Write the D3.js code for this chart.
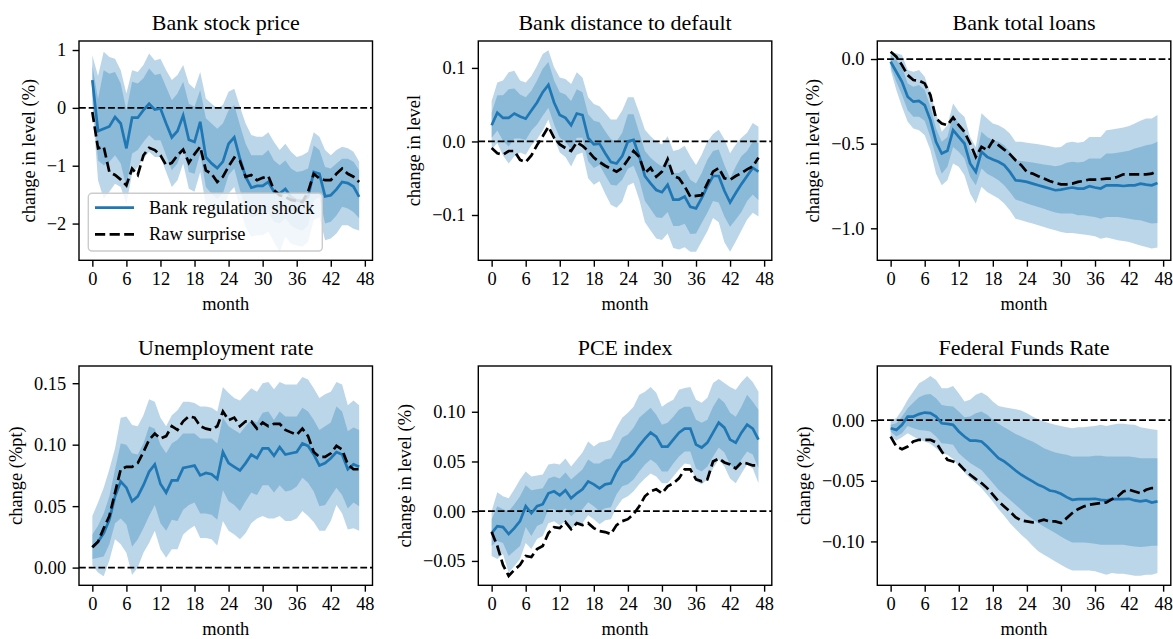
<!DOCTYPE html>
<html lang="en">
<head>
<meta charset="UTF-8">
<title>Impulse responses</title>
<script src="https://cdn.jsdelivr.net/npm/d3@7"></script>
<style>
    body { margin: 0; background: #fff; }
    svg { display: block; }
    text { font-family: "Liberation Serif", "Times New Roman", serif; fill: #000; }
</style>
</head>
<body>
<div id="chart"></div>
<script>
    // months 0..47 and axis ticks
    const months = d3.range(48);
    const xTicks = [0, 6, 12, 18, 24, 30, 36, 42, 48];

    // Bank stock price
    const stockIrf = [0.48,-0.40,-0.36,-0.32,-0.16,-0.27,-0.70,-0.17,-0.17,-0.04,0.07,-0.03,-0.01,-0.27,-0.51,-0.40,-0.13,-0.55,-0.59,-0.24,-0.85,-0.96,-1.04,-0.93,-0.62,-0.51,-0.88,-1.19,-1.38,-1.35,-1.35,-1.28,-1.45,-1.48,-1.40,-1.54,-1.60,-1.61,-1.54,-1.11,-1.14,-1.53,-1.51,-1.41,-1.28,-1.30,-1.36,-1.54];
    const stockRaw = [-0.07,-0.70,-0.67,-1.11,-1.16,-1.24,-1.34,-1.05,-1.16,-0.82,-0.69,-0.73,-0.82,-0.99,-0.95,-0.82,-0.72,-0.95,-0.80,-0.67,-1.08,-1.14,-1.28,-1.19,-1.01,-0.86,-0.92,-1.19,-1.16,-1.25,-1.21,-1.18,-1.42,-1.51,-1.54,-1.59,-1.61,-1.63,-1.45,-1.14,-1.22,-1.25,-1.25,-1.14,-1.05,-1.14,-1.19,-1.28];
    const stockHi90 = [0.91,0.55,0.97,0.88,0.85,0.65,0.25,0.65,0.62,0.74,0.94,0.82,0.85,0.65,0.48,0.57,0.74,0.42,0.33,0.62,0.16,0.07,-0.01,0.05,0.28,0.33,0.02,-0.27,-0.47,-0.50,-0.50,-0.42,-0.59,-0.73,-0.62,-0.76,-0.85,-0.82,-0.76,-0.42,-0.50,-0.73,-0.82,-0.73,-0.67,-0.70,-0.76,-0.93];
    const stockHi68 = [0.74,0.15,0.65,0.59,0.62,0.42,-0.04,0.45,0.42,0.51,0.68,0.57,0.59,0.36,0.13,0.25,0.45,0.07,0.02,0.31,-0.18,-0.27,-0.36,-0.27,-0.04,0.05,-0.30,-0.62,-0.82,-0.82,-0.82,-0.73,-0.91,-0.99,-0.91,-1.05,-1.11,-1.09,-1.05,-0.65,-0.73,-1.02,-1.05,-0.96,-0.88,-0.88,-0.93,-1.08];
    const stockLo68 = [0.22,-0.91,-0.99,-0.93,-0.82,-0.96,-1.37,-0.79,-0.73,-0.59,-0.47,-0.56,-0.56,-0.82,-1.08,-0.96,-0.67,-1.11,-1.14,-0.79,-1.37,-1.48,-1.57,-1.48,-1.16,-1.05,-1.42,-1.74,-1.89,-1.86,-1.86,-1.80,-1.97,-2.00,-1.91,-2.03,-2.09,-2.12,-2.03,-1.60,-1.54,-2.00,-1.97,-1.86,-1.71,-1.74,-1.80,-1.91];
    const stockLo90 = [0.07,-1.25,-1.57,-1.45,-1.31,-1.37,-1.66,-1.14,-1.02,-0.88,-0.76,-0.85,-0.85,-1.11,-1.37,-1.25,-0.96,-1.40,-1.45,-1.11,-1.68,-1.80,-1.89,-1.80,-1.48,-1.37,-1.74,-2.06,-2.23,-2.20,-2.20,-2.14,-2.32,-2.49,-2.23,-2.35,-2.38,-2.40,-2.32,-1.94,-1.89,-2.29,-2.26,-2.17,-2.03,-2.03,-2.09,-2.12];

    // Bank distance to default
    const ddIrf = [0.022,0.039,0.032,0.032,0.038,0.034,0.031,0.042,0.053,0.067,0.077,0.053,0.036,0.032,0.022,0.038,0.036,0.005,-0.004,-0.003,-0.016,-0.028,-0.030,-0.020,0.000,0.002,-0.020,-0.047,-0.057,-0.066,-0.069,-0.059,-0.079,-0.079,-0.075,-0.089,-0.091,-0.077,-0.061,-0.047,-0.047,-0.067,-0.083,-0.070,-0.058,-0.047,-0.036,-0.041];
    const ddRaw = [-0.009,-0.016,-0.018,-0.013,-0.013,-0.025,-0.028,-0.019,-0.005,0.007,0.020,0.005,-0.004,-0.009,-0.013,-0.001,-0.006,-0.013,-0.022,-0.028,-0.033,-0.037,-0.041,-0.036,-0.025,-0.013,-0.021,-0.043,-0.036,-0.048,-0.041,-0.024,-0.047,-0.050,-0.061,-0.075,-0.074,-0.073,-0.057,-0.041,-0.036,-0.050,-0.052,-0.047,-0.043,-0.038,-0.034,-0.022];
    const ddHi90 = [0.055,0.080,0.083,0.094,0.096,0.083,0.080,0.089,0.103,0.119,0.124,0.101,0.087,0.085,0.078,0.094,0.087,0.060,0.051,0.048,0.039,0.030,0.030,0.042,0.060,0.060,0.039,0.016,0.007,0.000,-0.004,0.007,-0.013,-0.011,-0.006,-0.020,-0.032,-0.018,0.000,0.010,0.016,0.003,-0.016,-0.004,0.005,0.012,0.025,0.020];
    const ddHi68 = [0.039,0.063,0.063,0.071,0.072,0.064,0.060,0.069,0.083,0.099,0.108,0.083,0.067,0.064,0.055,0.071,0.067,0.037,0.028,0.026,0.014,0.003,0.000,0.012,0.037,0.037,0.012,-0.013,-0.022,-0.029,-0.034,-0.022,-0.043,-0.043,-0.038,-0.052,-0.057,-0.043,-0.025,-0.013,-0.011,-0.032,-0.050,-0.034,-0.020,-0.013,0.000,-0.002];
    const ddLo68 = [0.005,0.015,0.001,-0.007,0.004,0.004,0.002,0.015,0.023,0.035,0.046,0.023,0.005,0.000,-0.011,0.005,0.005,-0.027,-0.036,-0.032,-0.046,-0.059,-0.060,-0.052,-0.037,-0.033,-0.052,-0.081,-0.092,-0.103,-0.104,-0.096,-0.115,-0.115,-0.112,-0.126,-0.125,-0.111,-0.097,-0.081,-0.083,-0.102,-0.116,-0.106,-0.096,-0.081,-0.072,-0.080];
    const ddLo90 = [-0.011,-0.002,-0.019,-0.030,-0.020,-0.015,-0.018,-0.005,0.003,0.015,0.030,0.005,-0.015,-0.021,-0.034,-0.018,-0.015,-0.050,-0.059,-0.054,-0.071,-0.086,-0.090,-0.082,-0.060,-0.056,-0.079,-0.110,-0.121,-0.132,-0.134,-0.125,-0.145,-0.147,-0.144,-0.150,-0.150,-0.136,-0.122,-0.104,-0.110,-0.137,-0.150,-0.136,-0.121,-0.106,-0.097,-0.102];

    // Bank total loans
    const loansIrf = [-0.016,-0.075,-0.134,-0.223,-0.252,-0.247,-0.272,-0.361,-0.489,-0.558,-0.542,-0.420,-0.460,-0.499,-0.617,-0.667,-0.548,-0.578,-0.594,-0.607,-0.627,-0.667,-0.716,-0.720,-0.726,-0.736,-0.746,-0.755,-0.765,-0.775,-0.771,-0.765,-0.759,-0.765,-0.765,-0.751,-0.759,-0.765,-0.746,-0.746,-0.746,-0.750,-0.746,-0.746,-0.736,-0.742,-0.746,-0.732];
    const loansRaw = [0.043,0.014,-0.036,-0.095,-0.124,-0.128,-0.144,-0.213,-0.351,-0.381,-0.391,-0.345,-0.391,-0.430,-0.499,-0.578,-0.519,-0.538,-0.483,-0.509,-0.535,-0.562,-0.598,-0.627,-0.667,-0.677,-0.692,-0.706,-0.720,-0.732,-0.740,-0.740,-0.736,-0.726,-0.720,-0.712,-0.712,-0.710,-0.706,-0.706,-0.696,-0.681,-0.681,-0.681,-0.681,-0.681,-0.677,-0.661];
    const loansHi90 = [0.043,0.034,0.024,-0.065,-0.075,-0.065,-0.105,-0.203,-0.321,-0.430,-0.391,-0.262,-0.312,-0.341,-0.460,-0.519,-0.321,-0.351,-0.381,-0.391,-0.410,-0.440,-0.489,-0.489,-0.495,-0.499,-0.503,-0.509,-0.515,-0.523,-0.519,-0.495,-0.489,-0.495,-0.489,-0.460,-0.460,-0.460,-0.420,-0.416,-0.410,-0.404,-0.396,-0.381,-0.365,-0.351,-0.351,-0.331];
    const loansHi68 = [0.024,-0.006,-0.045,-0.144,-0.164,-0.154,-0.183,-0.282,-0.410,-0.489,-0.460,-0.331,-0.381,-0.420,-0.538,-0.588,-0.430,-0.460,-0.479,-0.489,-0.509,-0.548,-0.598,-0.602,-0.607,-0.611,-0.617,-0.623,-0.627,-0.633,-0.627,-0.613,-0.607,-0.611,-0.607,-0.588,-0.588,-0.588,-0.558,-0.558,-0.554,-0.548,-0.542,-0.529,-0.519,-0.509,-0.503,-0.489];
    const loansLo68 = [-0.045,-0.134,-0.213,-0.302,-0.341,-0.341,-0.365,-0.460,-0.578,-0.677,-0.637,-0.519,-0.548,-0.588,-0.696,-0.746,-0.647,-0.677,-0.696,-0.716,-0.746,-0.785,-0.830,-0.840,-0.854,-0.864,-0.874,-0.884,-0.897,-0.907,-0.913,-0.913,-0.913,-0.923,-0.923,-0.929,-0.933,-0.943,-0.933,-0.933,-0.933,-0.937,-0.943,-0.949,-0.953,-0.963,-0.972,-0.968];
    const loansLo90 = [-0.065,-0.183,-0.282,-0.371,-0.410,-0.420,-0.450,-0.538,-0.677,-0.746,-0.716,-0.617,-0.637,-0.686,-0.795,-0.854,-0.755,-0.785,-0.805,-0.824,-0.854,-0.893,-0.943,-0.953,-0.963,-0.972,-0.982,-0.992,-1.002,-1.012,-1.022,-1.028,-1.028,-1.032,-1.036,-1.041,-1.047,-1.061,-1.055,-1.061,-1.071,-1.075,-1.081,-1.091,-1.101,-1.110,-1.120,-1.114];

    // Unemployment rate
    const unempIrf = [0.0165,0.021,0.028,0.039,0.058,0.070,0.065,0.054,0.058,0.067,0.078,0.084,0.068,0.061,0.071,0.071,0.081,0.082,0.083,0.075,0.077,0.076,0.072,0.094,0.085,0.082,0.079,0.085,0.092,0.089,0.097,0.097,0.091,0.098,0.092,0.093,0.094,0.101,0.099,0.092,0.083,0.085,0.089,0.094,0.092,0.080,0.084,0.082];
    const unempRaw = [0.0165,0.021,0.032,0.042,0.061,0.080,0.082,0.082,0.085,0.094,0.104,0.109,0.105,0.107,0.115,0.112,0.119,0.123,0.122,0.115,0.113,0.112,0.115,0.127,0.120,0.122,0.115,0.119,0.119,0.113,0.118,0.115,0.117,0.117,0.112,0.110,0.108,0.113,0.107,0.094,0.090,0.090,0.093,0.099,0.096,0.084,0.080,0.080];
    const unempHi90 = [0.042,0.053,0.065,0.080,0.097,0.122,0.123,0.116,0.115,0.124,0.137,0.135,0.122,0.115,0.124,0.128,0.135,0.135,0.134,0.131,0.131,0.130,0.127,0.147,0.142,0.138,0.136,0.141,0.146,0.143,0.150,0.151,0.145,0.151,0.149,0.149,0.149,0.155,0.153,0.146,0.138,0.141,0.143,0.151,0.149,0.132,0.136,0.132];
    const unempHi68 = [0.027,0.034,0.044,0.058,0.080,0.101,0.100,0.093,0.092,0.101,0.115,0.113,0.100,0.093,0.101,0.104,0.109,0.109,0.109,0.105,0.105,0.105,0.101,0.122,0.115,0.112,0.109,0.115,0.120,0.118,0.126,0.127,0.120,0.127,0.123,0.123,0.123,0.130,0.127,0.120,0.112,0.115,0.118,0.131,0.127,0.111,0.114,0.112];
    const unempLo68 = [0.007,0.008,0.009,0.019,0.036,0.040,0.035,0.017,0.023,0.032,0.042,0.051,0.036,0.030,0.039,0.038,0.047,0.051,0.053,0.044,0.044,0.043,0.039,0.063,0.054,0.051,0.046,0.054,0.061,0.059,0.067,0.067,0.061,0.067,0.062,0.063,0.066,0.073,0.069,0.062,0.050,0.051,0.058,0.065,0.059,0.048,0.053,0.050];
    const unempLo90 = [0.002,-0.004,-0.007,0.006,0.023,0.019,0.012,-0.006,0.000,0.012,0.020,0.030,0.015,0.008,0.015,0.015,0.027,0.031,0.034,0.024,0.024,0.023,0.018,0.038,0.030,0.027,0.023,0.028,0.036,0.040,0.042,0.040,0.040,0.042,0.038,0.038,0.040,0.046,0.042,0.037,0.030,0.030,0.038,0.051,0.044,0.031,0.032,0.030];

    // PCE index
    const pceIrf = [-0.022,-0.015,-0.016,-0.023,-0.017,-0.010,0.005,-0.002,0.005,0.007,0.018,0.020,0.016,0.021,0.013,0.018,0.022,0.030,0.027,0.023,0.027,0.028,0.040,0.049,0.052,0.058,0.066,0.073,0.079,0.075,0.065,0.065,0.072,0.079,0.083,0.083,0.067,0.064,0.069,0.079,0.089,0.084,0.072,0.069,0.079,0.087,0.083,0.072];
    const pceRaw = [-0.021,-0.035,-0.054,-0.065,-0.059,-0.054,-0.045,-0.046,-0.038,-0.035,-0.022,-0.016,-0.017,-0.011,-0.018,-0.012,-0.014,-0.012,-0.017,-0.020,-0.021,-0.023,-0.014,-0.010,-0.008,-0.003,0.005,0.015,0.020,0.022,0.018,0.025,0.028,0.033,0.042,0.042,0.032,0.030,0.032,0.050,0.053,0.049,0.047,0.043,0.049,0.048,0.046,0.046];
    const pceHi90 = [0.000,0.019,0.015,0.013,0.022,0.032,0.040,0.035,0.036,0.037,0.047,0.048,0.047,0.053,0.045,0.052,0.059,0.070,0.065,0.069,0.070,0.072,0.084,0.094,0.099,0.105,0.117,0.120,0.125,0.119,0.105,0.109,0.112,0.122,0.124,0.125,0.112,0.109,0.114,0.129,0.133,0.129,0.125,0.122,0.130,0.136,0.130,0.120];
    const pceHi68 = [-0.008,0.005,0.002,0.000,0.007,0.015,0.026,0.021,0.022,0.023,0.033,0.035,0.033,0.039,0.032,0.037,0.042,0.052,0.048,0.048,0.052,0.053,0.063,0.074,0.077,0.084,0.094,0.099,0.104,0.097,0.087,0.089,0.095,0.102,0.105,0.105,0.092,0.089,0.092,0.105,0.114,0.109,0.099,0.095,0.105,0.117,0.110,0.102];
    const pceLo68 = [-0.035,-0.030,-0.032,-0.045,-0.040,-0.035,-0.016,-0.025,-0.015,-0.012,0.002,0.002,-0.002,0.003,-0.005,0.000,0.002,0.009,0.005,0.000,0.003,0.004,0.017,0.025,0.027,0.032,0.040,0.047,0.052,0.048,0.040,0.040,0.048,0.055,0.060,0.060,0.043,0.040,0.045,0.055,0.064,0.059,0.047,0.042,0.052,0.060,0.057,0.043];
    const pceLo90 = [-0.045,-0.048,-0.043,-0.062,-0.055,-0.048,-0.032,-0.038,-0.028,-0.025,-0.012,-0.010,-0.014,-0.010,-0.018,-0.012,-0.012,-0.004,-0.008,-0.013,-0.009,-0.008,0.004,0.012,0.015,0.020,0.027,0.033,0.038,0.035,0.028,0.028,0.035,0.042,0.048,0.047,0.030,0.027,0.032,0.043,0.052,0.045,0.033,0.028,0.038,0.047,0.043,0.028];

    // Federal Funds Rate
    const ffrIrf = [-0.0066,-0.008,-0.0038,0.003,0.003,0.005,0.0063,0.0058,0.003,-0.0025,-0.003,-0.0038,-0.0093,-0.0135,-0.0168,-0.0168,-0.0176,-0.0217,-0.0266,-0.0313,-0.034,-0.0376,-0.0415,-0.045,-0.0478,-0.0505,-0.0533,-0.0552,-0.058,-0.0588,-0.0607,-0.0635,-0.0657,-0.0651,-0.0651,-0.0651,-0.0648,-0.0657,-0.0662,-0.0651,-0.0651,-0.0651,-0.0648,-0.0662,-0.067,-0.0662,-0.0679,-0.067];
    const ffrRaw = [-0.0135,-0.0217,-0.0239,-0.0217,-0.0176,-0.0162,-0.0162,-0.0162,-0.0184,-0.0258,-0.0327,-0.034,-0.036,-0.041,-0.045,-0.0486,-0.0519,-0.056,-0.0615,-0.067,-0.0712,-0.0753,-0.08,-0.0827,-0.0835,-0.0843,-0.0835,-0.0821,-0.0835,-0.0835,-0.0849,-0.0808,-0.0766,-0.0734,-0.0712,-0.0698,-0.069,-0.0684,-0.0679,-0.0651,-0.0629,-0.0588,-0.0574,-0.0588,-0.0602,-0.0574,-0.056,-0.056];
    const ffrHi90 = [0.0,0.0016,0.0085,0.0168,0.0236,0.0305,0.0332,0.0365,0.0332,0.0264,0.0264,0.0283,0.0223,0.0154,0.0168,0.0209,0.0228,0.0201,0.0154,0.0118,0.0107,0.0099,0.0091,0.008,0.0058,0.003,0.0008,-0.0011,-0.0025,-0.0038,-0.0047,-0.0058,-0.0066,-0.0058,-0.0058,-0.0052,-0.0047,-0.0038,-0.0047,-0.0038,-0.003,-0.003,-0.0036,-0.0038,-0.0058,-0.0066,-0.0074,-0.008];
    const ffrHi68 = [-0.0038,-0.0025,0.003,0.0099,0.0146,0.019,0.0209,0.0217,0.0181,0.0126,0.0118,0.0113,0.0071,0.0025,0.003,0.0058,0.0071,0.0044,0.0003,-0.003,-0.0058,-0.0085,-0.0113,-0.0135,-0.0157,-0.0176,-0.0203,-0.0231,-0.025,-0.0266,-0.0277,-0.0286,-0.0299,-0.0299,-0.0299,-0.0299,-0.0294,-0.0294,-0.0299,-0.0299,-0.0299,-0.0299,-0.0299,-0.0305,-0.0313,-0.0313,-0.0313,-0.0313];
    const ffrLo68 = [-0.0093,-0.0135,-0.0107,-0.0047,-0.0066,-0.008,-0.0085,-0.0093,-0.0135,-0.019,-0.0195,-0.0203,-0.0272,-0.0313,-0.0354,-0.0382,-0.041,-0.0464,-0.0519,-0.0574,-0.0615,-0.0657,-0.0698,-0.0739,-0.078,-0.0816,-0.0849,-0.0876,-0.0904,-0.0931,-0.0959,-0.0986,-0.1008,-0.1008,-0.1008,-0.1014,-0.1019,-0.1027,-0.1027,-0.1027,-0.1027,-0.1027,-0.1036,-0.1041,-0.1047,-0.1041,-0.1036,-0.1036];
    const ffrLo90 = [-0.0135,-0.0168,-0.014,-0.0107,-0.0135,-0.0162,-0.0176,-0.0195,-0.0231,-0.0272,-0.0286,-0.0321,-0.0382,-0.0431,-0.0478,-0.0519,-0.056,-0.0615,-0.067,-0.0734,-0.0788,-0.0849,-0.0898,-0.0945,-0.0986,-0.1036,-0.1082,-0.111,-0.1137,-0.1165,-0.1192,-0.122,-0.1239,-0.1239,-0.1239,-0.1239,-0.1247,-0.1261,-0.1275,-0.1261,-0.1266,-0.1266,-0.1275,-0.1283,-0.1283,-0.1275,-0.1275,-0.1261];

    // Titles, axis labels and y ticks
    const titles = ['Bank stock price', 'Bank distance to default', 'Bank total loans',
        'Unemployment rate', 'PCE index', 'Federal Funds Rate'];
    const yLabels = ['change in level (%)', 'change in level', 'change in level (%)',
        'change (%pt)', 'change in level (%)', 'change (%pt)'];
    const yTicks = [[-2, -1, 0, 1], [-0.1, 0, 0.1], [-1, -0.5, 0],
        [0, 0.05, 0.10, 0.15], [-0.05, 0, 0.05, 0.10], [-0.10, -0.05, 0]];
    const yFormats = ['d', '.1f', '.1f', '.2f', '.2f', '.2f'];
    const seriesNames = ['Bank regulation shock', 'Raw surprise'];

    const panels = [
        { irf: stockIrf, raw: stockRaw, hi90: stockHi90, hi68: stockHi68, lo68: stockLo68, lo90: stockLo90, yDomain: [-2.635, 1.156] },
        { irf: ddIrf, raw: ddRaw, hi90: ddHi90, hi68: ddHi68, lo68: ddLo68, lo90: ddLo90, yDomain: [-0.1616, 0.1366] },
        { irf: loansIrf, raw: loansRaw, hi90: loansHi90, hi68: loansHi68, lo68: loansLo68, lo90: loansLo90, yDomain: [-1.189, 0.1065] },
        { irf: unempIrf, raw: unempRaw, hi90: unempHi90, hi68: unempHi68, lo68: unempLo68, lo90: unempLo90, yDomain: [-0.0144, 0.164] },
        { irf: pceIrf, raw: pceRaw, hi90: pceHi90, hi68: pceHi68, lo68: pceLo68, lo90: pceLo90, yDomain: [-0.0745, 0.146] },
        { irf: ffrIrf, raw: ffrRaw, hi90: ffrHi90, hi68: ffrHi68, lo68: ffrLo68, lo90: ffrLo90, yDomain: [-0.1362, 0.0447] },
    ];

    const width = 1173;
    const height = 639;
    const colLeft = [79, 478.3, 877.3];
    const rowTop = [41, 366];
    const pw = 293.5;
    const ph = 219.3;
    const blue = '#1f77b4';

    const svg = d3.select('#chart')
        .append('svg')
        .attr('width', width)
        .attr('height', height);

    const x = d3.scaleLinear().domain([-2.35, 49.35]).range([0, pw]);

    panels.forEach((p, i) => {
        const g = svg.append('g')
            .attr('transform', `translate(${colLeft[i % 3]},${rowTop[Math.floor(i / 3)]})`);
        const y = d3.scaleLinear().domain(p.yDomain).range([ph, 0]);

        g.append('clipPath').attr('id', 'clip' + i)
            .append('rect').attr('width', pw).attr('height', ph);
        const plot = g.append('g').attr('clip-path', `url(#clip${i})`);

        // bands: 90% then 68%, both translucent blue
        const band = (lo, hi) => d3.area()
            .x(d => x(d))
            .y0(d => y(lo[d]))
            .y1(d => y(hi[d]));
        plot.append('path')
            .datum(months)
            .attr('d', band(p.lo90, p.hi90))
            .attr('fill', blue)
            .attr('fill-opacity', 0.3);
        plot.append('path')
            .datum(months)
            .attr('d', band(p.lo68, p.hi68))
            .attr('fill', blue)
            .attr('fill-opacity', 0.3);

        // zero line
        plot.append('line')
            .attr('x1', 0).attr('x2', pw)
            .attr('y1', y(0)).attr('y2', y(0))
            .attr('stroke', '#000')
            .attr('stroke-width', 1.8)
            .attr('stroke-dasharray', '6.8,2.9');

        const line = vals => d3.line().x(d => x(d)).y(d => y(vals[d]));
        plot.append('path')
            .datum(months)
            .attr('d', line(p.irf))
            .attr('fill', 'none')
            .attr('stroke', blue)
            .attr('stroke-width', 2.7);
        plot.append('path')
            .datum(months)
            .attr('d', line(p.raw))
            .attr('fill', 'none')
            .attr('stroke', '#000')
            .attr('stroke-width', 2.7)
            .attr('stroke-dasharray', '10.2,4.4');

        // axes
        const xAxis = g.append('g')
            .attr('transform', `translate(0,${ph})`)
            .call(d3.axisBottom(x).tickValues(xTicks).tickSize(6.4).tickPadding(5));
        const yAxis = g.append('g')
            .call(d3.axisLeft(y).tickValues(yTicks[i]).tickFormat(d3.format(yFormats[i])).tickSize(6.4).tickPadding(6.4));
        [xAxis, yAxis].forEach(a => {
            a.select('.domain').remove();
            a.selectAll('line').attr('stroke', '#000').attr('stroke-width', 1.4);
            a.selectAll('text')
                .style('font-family', '"Liberation Serif", serif')
                .style('font-size', '18.4px')
                .attr('fill', '#000');
        });

        g.append('rect')
            .attr('width', pw).attr('height', ph)
            .attr('fill', 'none')
            .attr('stroke', '#000')
            .attr('stroke-width', 1.4);

        g.append('text')
            .attr('x', pw / 2).attr('y', -11)
            .attr('text-anchor', 'middle')
            .style('font-size', '22px')
            .text(titles[i]);

        g.append('text')
            .attr('x', pw / 2).attr('y', ph + 50)
            .attr('text-anchor', 'middle')
            .style('font-size', '18.4px')
            .text('month');

        // y label sits left of the widest tick label
        let minX = 0;
        yAxis.selectAll('text').each(function () {
            const b = this.getBBox();
            minX = Math.min(minX, b.x);
        });
        g.append('text')
            .attr('transform', `translate(${minX - 12},${ph / 2}) rotate(-90)`)
            .attr('text-anchor', 'middle')
            .style('font-size', '18.4px')
            .text(yLabels[i]);

        if (i === 0) {
            const lg = g.append('g').attr('transform', 'translate(9.3,152.3)');
            lg.append('rect')
                .attr('width', 234).attr('height', 57.7)
                .attr('rx', 3.7)
                .attr('fill', '#fff').attr('fill-opacity', 0.8)
                .attr('stroke', '#cccccc').attr('stroke-width', 1.4);
            seriesNames.forEach((name, k) => {
                const ly = 14.4 + k * 26.6;
                lg.append('line')
                    .attr('x1', 6.7).attr('x2', 45.7)
                    .attr('y1', ly).attr('y2', ly)
                    .attr('stroke', k === 0 ? blue : '#000')
                    .attr('stroke-width', 2.7)
                    .attr('stroke-dasharray', k === 0 ? null : '10.2,4.4');
                lg.append('text')
                    .attr('x', 60.7).attr('y', ly + 6)
                    .style('font-size', '18.4px')
                    .text(name);
            });
        }
    });
</script>
</body>
</html>
